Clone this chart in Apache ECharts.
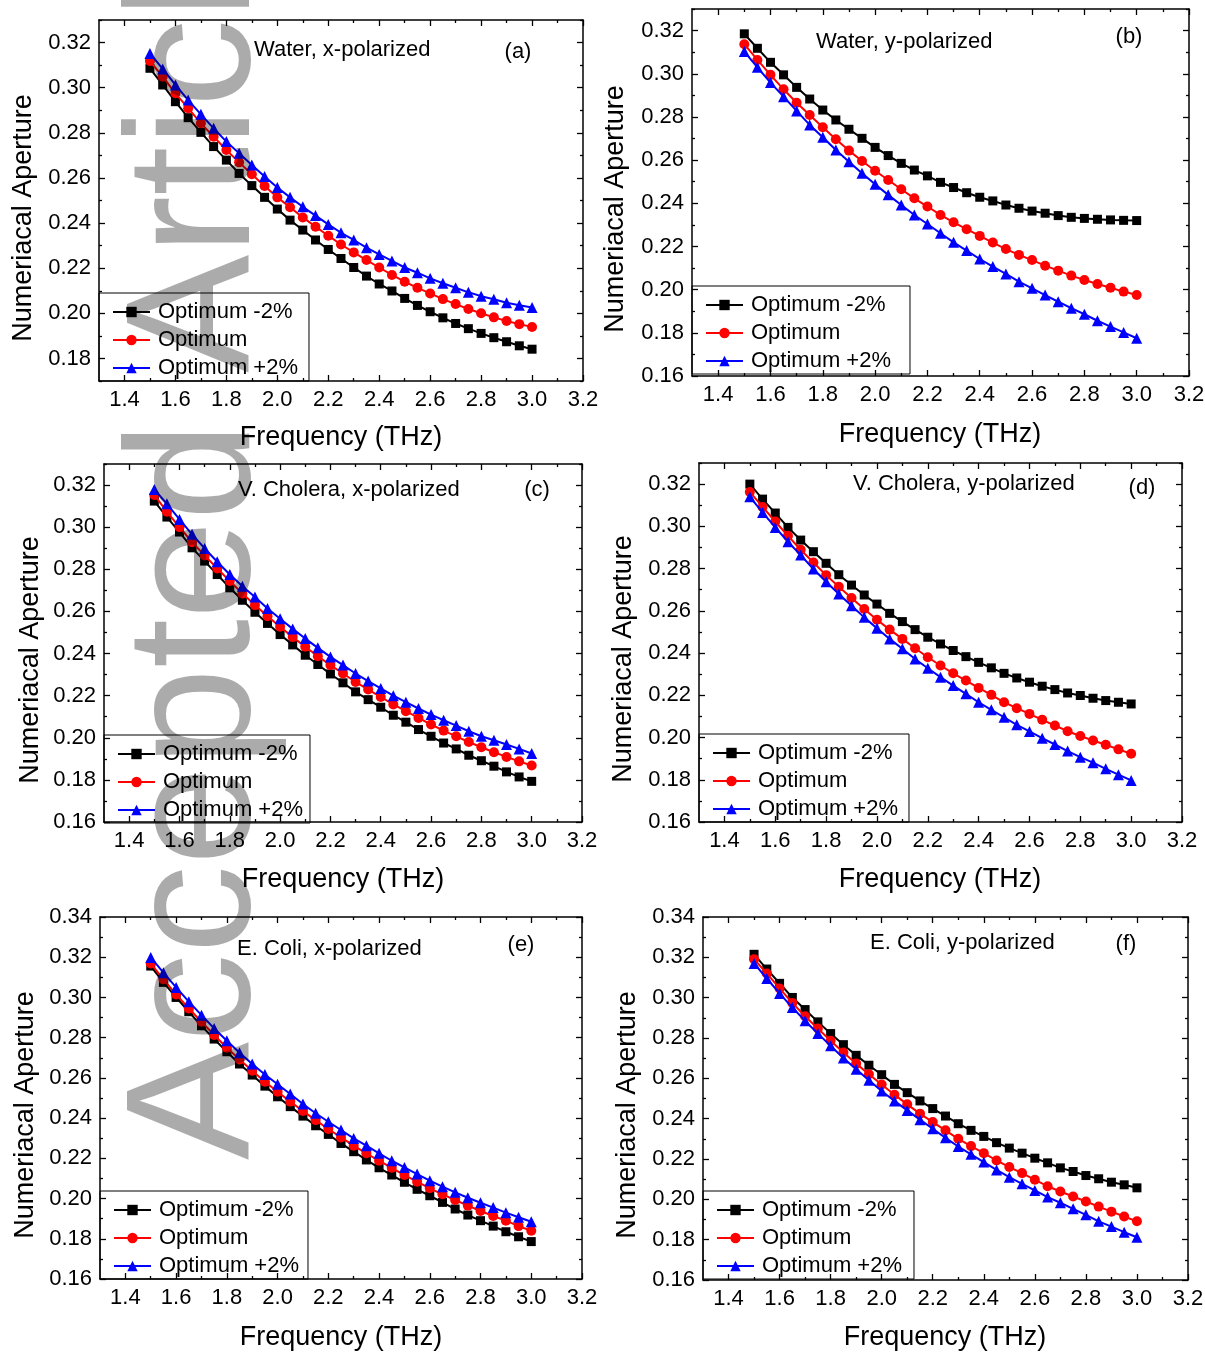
<!DOCTYPE html>
<html>
<head>
<meta charset="utf-8">
<title>Numerical aperture vs frequency</title>
<script src="https://cdn.jsdelivr.net/npm/echarts@6/dist/echarts.min.js"></script>
<style>
  html, body { margin: 0; padding: 0; background: #fff; }
  #chart { width: 1205px; height: 1353px; }
</style>
</head>
<body>
<div id="chart"></div>
<script>
// Frequency samples (THz)
const freq = [1.50, 1.55, 1.60, 1.65, 1.70, 1.75, 1.80, 1.85, 1.90, 1.95, 2.00, 2.05, 2.10, 2.15, 2.20, 2.25,
              2.30, 2.35, 2.40, 2.45, 2.50, 2.55, 2.60, 2.65, 2.70, 2.75, 2.80, 2.85, 2.90, 2.95, 3.00];

// (a) Water, x-polarized
const waterX_minus2 = [0.3086, 0.3012, 0.2938, 0.2867, 0.2802, 0.2739, 0.2679, 0.2620, 0.2566, 0.2514, 0.2462, 0.2413, 0.2369, 0.2325, 0.2283, 0.2243,
                       0.2203, 0.2165, 0.2130, 0.2099, 0.2066, 0.2035, 0.2007, 0.1980, 0.1955, 0.1932, 0.1911, 0.1892, 0.1874, 0.1856, 0.1841];
const waterX_opt    = [0.3118, 0.3049, 0.2975, 0.2909, 0.2842, 0.2783, 0.2724, 0.2669, 0.2616, 0.2564, 0.2514, 0.2470, 0.2425, 0.2384, 0.2344, 0.2305,
                       0.2270, 0.2236, 0.2203, 0.2170, 0.2140, 0.2113, 0.2088, 0.2063, 0.2041, 0.2019, 0.2000, 0.1982, 0.1966, 0.1952, 0.1939];
const waterX_plus2  = [0.3152, 0.3083, 0.3012, 0.2945, 0.2882, 0.2820, 0.2761, 0.2709, 0.2657, 0.2606, 0.2558, 0.2514, 0.2472, 0.2433, 0.2394, 0.2357,
                       0.2325, 0.2291, 0.2261, 0.2232, 0.2203, 0.2180, 0.2155, 0.2133, 0.2113, 0.2093, 0.2076, 0.2062, 0.2047, 0.2036, 0.2026];

// (b) Water, y-polarized
const waterY_minus2 = [0.3185, 0.3118, 0.3053, 0.2995, 0.2937, 0.2883, 0.2832, 0.2786, 0.2743, 0.2701, 0.2659, 0.2621, 0.2585, 0.2554, 0.2527, 0.2497,
                       0.2473, 0.2449, 0.2428, 0.2411, 0.2392, 0.2377, 0.2364, 0.2354, 0.2343, 0.2335, 0.2330, 0.2326, 0.2323, 0.2321, 0.2320];
const waterY_opt    = [0.3137, 0.3064, 0.2995, 0.2928, 0.2866, 0.2809, 0.2752, 0.2697, 0.2644, 0.2596, 0.2551, 0.2508, 0.2465, 0.2423, 0.2385, 0.2346,
                       0.2312, 0.2280, 0.2249, 0.2218, 0.2188, 0.2161, 0.2137, 0.2111, 0.2088, 0.2065, 0.2045, 0.2026, 0.2009, 0.1991, 0.1975];
const waterY_plus2  = [0.3103, 0.3030, 0.2959, 0.2894, 0.2828, 0.2763, 0.2706, 0.2647, 0.2593, 0.2539, 0.2488, 0.2439, 0.2392, 0.2346, 0.2304, 0.2261,
                       0.2219, 0.2181, 0.2142, 0.2107, 0.2073, 0.2037, 0.2006, 0.1975, 0.1944, 0.1914, 0.1886, 0.1856, 0.1829, 0.1802, 0.1775];

// (c) V. Cholera, x-polarized
const cholX_minus2 = [0.3124, 0.3048, 0.2977, 0.2902, 0.2839, 0.2775, 0.2712, 0.2653, 0.2596, 0.2543, 0.2490, 0.2441, 0.2392, 0.2348, 0.2303, 0.2261,
                      0.2218, 0.2181, 0.2145, 0.2107, 0.2074, 0.2039, 0.2007, 0.1975, 0.1947, 0.1917, 0.1891, 0.1865, 0.1838, 0.1814, 0.1793];
const cholX_opt    = [0.3153, 0.3073, 0.3000, 0.2929, 0.2866, 0.2804, 0.2744, 0.2685, 0.2630, 0.2577, 0.2527, 0.2478, 0.2432, 0.2387, 0.2345, 0.2305,
                      0.2265, 0.2229, 0.2194, 0.2158, 0.2126, 0.2094, 0.2063, 0.2034, 0.2007, 0.1980, 0.1955, 0.1931, 0.1909, 0.1888, 0.1868];
const cholX_plus2  = [0.3179, 0.3111, 0.3037, 0.2966, 0.2899, 0.2836, 0.2775, 0.2720, 0.2668, 0.2614, 0.2565, 0.2517, 0.2471, 0.2427, 0.2384, 0.2345,
                      0.2305, 0.2269, 0.2234, 0.2200, 0.2169, 0.2139, 0.2110, 0.2083, 0.2058, 0.2031, 0.2007, 0.1988, 0.1968, 0.1947, 0.1925];

// (d) V. Cholera, y-polarized
const cholY_minus2 = [0.3200, 0.3129, 0.3063, 0.2995, 0.2935, 0.2880, 0.2825, 0.2771, 0.2722, 0.2675, 0.2632, 0.2588, 0.2549, 0.2511, 0.2475, 0.2443,
                      0.2412, 0.2383, 0.2356, 0.2330, 0.2304, 0.2282, 0.2262, 0.2243, 0.2227, 0.2211, 0.2199, 0.2186, 0.2175, 0.2167, 0.2159];
const cholY_opt    = [0.3163, 0.3092, 0.3023, 0.2955, 0.2889, 0.2829, 0.2769, 0.2714, 0.2661, 0.2609, 0.2558, 0.2511, 0.2467, 0.2423, 0.2380, 0.2341,
                      0.2304, 0.2270, 0.2235, 0.2202, 0.2167, 0.2139, 0.2112, 0.2084, 0.2057, 0.2030, 0.2007, 0.1986, 0.1966, 0.1944, 0.1923];
const cholY_plus2  = [0.3140, 0.3066, 0.2995, 0.2927, 0.2864, 0.2798, 0.2738, 0.2680, 0.2624, 0.2569, 0.2517, 0.2467, 0.2420, 0.2372, 0.2328, 0.2286,
                      0.2246, 0.2207, 0.2167, 0.2131, 0.2096, 0.2060, 0.2029, 0.1997, 0.1967, 0.1936, 0.1907, 0.1881, 0.1852, 0.1824, 0.1797];

// (e) E. Coli, x-polarized
const coliX_minus2 = [0.3156, 0.3075, 0.3000, 0.2929, 0.2859, 0.2793, 0.2730, 0.2669, 0.2614, 0.2559, 0.2506, 0.2457, 0.2410, 0.2362, 0.2319, 0.2274,
                      0.2233, 0.2192, 0.2153, 0.2117, 0.2081, 0.2046, 0.2014, 0.1981, 0.1948, 0.1918, 0.1890, 0.1863, 0.1835, 0.1810, 0.1786];
const coliX_opt    = [0.3169, 0.3090, 0.3015, 0.2945, 0.2879, 0.2813, 0.2750, 0.2692, 0.2636, 0.2581, 0.2531, 0.2482, 0.2435, 0.2390, 0.2346, 0.2304,
                      0.2263, 0.2225, 0.2188, 0.2153, 0.2117, 0.2084, 0.2051, 0.2021, 0.1993, 0.1965, 0.1938, 0.1913, 0.1890, 0.1863, 0.1840];
const coliX_plus2  = [0.3199, 0.3123, 0.3050, 0.2979, 0.2912, 0.2846, 0.2785, 0.2725, 0.2669, 0.2617, 0.2568, 0.2520, 0.2470, 0.2424, 0.2382, 0.2341,
                      0.2299, 0.2263, 0.2225, 0.2188, 0.2155, 0.2122, 0.2089, 0.2059, 0.2031, 0.2004, 0.1979, 0.1955, 0.1930, 0.1907, 0.1885];

// (f) E. Coli, y-polarized
const coliY_minus2 = [0.3215, 0.3142, 0.3071, 0.3001, 0.2941, 0.2880, 0.2822, 0.2767, 0.2714, 0.2665, 0.2618, 0.2570, 0.2529, 0.2488, 0.2450, 0.2413,
                      0.2375, 0.2342, 0.2312, 0.2281, 0.2254, 0.2229, 0.2204, 0.2181, 0.2156, 0.2138, 0.2118, 0.2102, 0.2085, 0.2072, 0.2057];
const coliY_opt    = [0.3191, 0.3120, 0.3046, 0.2974, 0.2908, 0.2847, 0.2786, 0.2728, 0.2673, 0.2620, 0.2569, 0.2519, 0.2471, 0.2425, 0.2383, 0.2342,
                      0.2300, 0.2264, 0.2229, 0.2193, 0.2160, 0.2130, 0.2097, 0.2065, 0.2039, 0.2014, 0.1989, 0.1964, 0.1939, 0.1915, 0.1891];
const coliY_plus2  = [0.3170, 0.3095, 0.3021, 0.2951, 0.2885, 0.2822, 0.2761, 0.2701, 0.2645, 0.2590, 0.2537, 0.2488, 0.2441, 0.2395, 0.2350, 0.2305,
                      0.2262, 0.2223, 0.2185, 0.2146, 0.2110, 0.2077, 0.2044, 0.2011, 0.1983, 0.1953, 0.1923, 0.1891, 0.1865, 0.1837, 0.1812];

// Tick positions
const xMajorTicks = [1.4, 1.6, 1.8, 2.0, 2.2, 2.4, 2.6, 2.8, 3.0, 3.2];
const xMinorTicks = [1.5, 1.7, 1.9, 2.1, 2.3, 2.5, 2.7, 2.9, 3.1];
const yMajorTicksWaterX = [0.18, 0.20, 0.22, 0.24, 0.26, 0.28, 0.30, 0.32];
const yMajorTicksMid = [0.16, 0.18, 0.20, 0.22, 0.24, 0.26, 0.28, 0.30, 0.32];
const yMajorTicksColi = [0.16, 0.18, 0.20, 0.22, 0.24, 0.26, 0.28, 0.30, 0.32, 0.34];
const yMinorTicks = [0.17, 0.19, 0.21, 0.23, 0.25, 0.27, 0.29, 0.31, 0.33];

const seriesNames = ['Optimum -2%', 'Optimum', 'Optimum +2%'];
const panelNotes = ['Water, x-polarized', 'Water, y-polarized', 'V. Cholera, x-polarized',
                    'V. Cholera, y-polarized', 'E. Coli, x-polarized', 'E. Coli, y-polarized'];
const panelTags = ['(a)', '(b)', '(c)', '(d)', '(e)', '(f)'];
const xTitle = 'Frequency (THz)';
const yTitle = 'Numeriacal Aperture';

const FONT = "'Liberation Sans', Arial, Helvetica, sans-serif";

// Layout of the six panels (pixel boxes and text anchors)
const panels = [
  { box: [99, 20, 484, 361],  yRange: [0.17, 0.33], yTicks: yMajorTicksWaterX, data: [waterX_minus2, waterX_opt, waterX_plus2],
    legend: [99, 293, 11],  note: [254, 50],  tag: [518, 52],  xT: [341, 438],  yT: [24, 218] },
  { box: [692, 9, 497, 367],  yRange: [0.16, 0.33], yTicks: yMajorTicksMid, data: [waterY_minus2, waterY_opt, waterY_plus2],
    legend: [692, 286, 19], note: [816, 42],  tag: [1129, 37], xT: [940, 435],  yT: [616, 209] },
  { box: [104, 464, 478, 358], yRange: [0.16, 0.33], yTicks: yMajorTicksMid, data: [cholX_minus2, cholX_opt, cholX_plus2],
    legend: [104, 735, 7], note: [238, 490], tag: [537, 490], xT: [343, 880],  yT: [31, 660] },
  { box: [699, 463, 483, 359], yRange: [0.16, 0.33], yTicks: yMajorTicksMid, data: [cholY_minus2, cholY_opt, cholY_plus2],
    legend: [699, 734, 11], note: [853, 484], tag: [1142, 488], xT: [940, 880], yT: [624, 659] },
  { box: [100, 917, 482, 362], yRange: [0.16, 0.34], yTicks: yMajorTicksColi, data: [coliX_minus2, coliX_opt, coliX_plus2],
    legend: [100, 1191, 9], note: [237, 949], tag: [521, 945], xT: [341, 1338], yT: [26, 1115] },
  { box: [703, 917, 485, 363], yRange: [0.16, 0.34], yTicks: yMajorTicksColi, data: [coliY_minus2, coliY_opt, coliY_plus2],
    legend: [703, 1191, 12], note: [870, 943], tag: [1126, 944], xT: [945, 1338], yT: [628, 1115] }
];

const seriesStyles = [
  { color: '#000000', symbol: 'rect', size: 9 },
  { color: '#ff0000', symbol: 'circle', size: 10 },
  { color: '#0000ff', symbol: 'triangle', size: 11 }
];

function xAxisDef(gridIndex, position, ticks, len, withLabels, withLine) {
  return {
    type: 'value', gridIndex, position, min: 1.3, max: 3.2,
    axisLine: { show: withLine, onZero: false, lineStyle: { color: '#000', width: 1.5 } },
    axisTick: { show: true, inside: true, length: len, customValues: ticks, lineStyle: { color: '#000', width: 1.3 } },
    axisLabel: { show: withLabels, customValues: ticks, formatter: v => v.toFixed(1), margin: 8,
                 color: '#000', fontFamily: FONT, fontSize: 22 },
    splitLine: { show: false }, minorTick: { show: false }
  };
}

function yAxisDef(gridIndex, position, range, ticks, len, withLabels, withLine) {
  return {
    type: 'value', gridIndex, position, min: range[0], max: range[1],
    axisLine: { show: withLine, onZero: false, lineStyle: { color: '#000', width: 1.5 } },
    axisTick: { show: true, inside: true, length: len, customValues: ticks, lineStyle: { color: '#000', width: 1.3 } },
    axisLabel: { show: withLabels, customValues: ticks, formatter: v => v.toFixed(2), margin: 8,
                 color: '#000', fontFamily: FONT, fontSize: 22 },
    splitLine: { show: false }, minorTick: { show: false }
  };
}

const option = {
  animation: false,
  backgroundColor: '#ffffff',
  grid: [], xAxis: [], yAxis: [], series: [], legend: [], graphic: []
};

panels.forEach((p, i) => {
  option.grid.push({ left: p.box[0], top: p.box[1], width: p.box[2], height: p.box[3],
                     containLabel: false, outerBoundsMode: 'none', show: false });

  const xIdx = option.xAxis.length;
  option.xAxis.push(
    xAxisDef(i, 'bottom', xMajorTicks, 6, true, true),
    xAxisDef(i, 'top', xMajorTicks, 6, false, true),
    xAxisDef(i, 'bottom', xMinorTicks, 3, false, false),
    xAxisDef(i, 'top', xMinorTicks, 3, false, false)
  );
  const yIdx = option.yAxis.length;
  option.yAxis.push(
    yAxisDef(i, 'left', p.yRange, p.yTicks, 6, true, true),
    yAxisDef(i, 'right', p.yRange, p.yTicks, 6, false, true),
    yAxisDef(i, 'left', p.yRange, yMinorTicks, 3, false, false),
    yAxisDef(i, 'right', p.yRange, yMinorTicks, 3, false, false)
  );

  p.data.forEach((values, s) => {
    const st = seriesStyles[s];
    option.series.push({
      type: 'line', name: seriesNames[s], xAxisIndex: xIdx, yAxisIndex: yIdx,
      data: freq.map((f, k) => [f, values[k]]),
      symbol: st.symbol, symbolSize: st.size, showSymbol: true,
      color: st.color,
      itemStyle: { color: st.color },
      lineStyle: { color: st.color, width: 2 },
      z: 2 + s
    });
  });

  option.legend.push({
    left: p.legend[0], top: p.legend[1], orient: 'vertical',
    data: seriesNames, selectedMode: false,
    itemWidth: 37, itemHeight: 13, itemGap: 6,
    padding: [8, p.legend[2], 2, 13],
    borderColor: '#000', borderWidth: 1, backgroundColor: 'transparent',
    textStyle: { color: '#000', fontFamily: FONT, fontSize: 22, padding: [0, 0, 0, 3] }
  });

  option.graphic.push(
    { type: 'text', x: p.note[0], y: p.note[1], silent: true,
      style: { text: panelNotes[i], fill: '#000', fontFamily: FONT, fontSize: 22, align: 'left', verticalAlign: 'middle' } },
    { type: 'text', x: p.tag[0], y: p.tag[1], silent: true,
      style: { text: panelTags[i], fill: '#000', fontFamily: FONT, fontSize: 22, align: 'center', verticalAlign: 'middle' } },
    { type: 'text', x: p.xT[0], y: p.xT[1], silent: true,
      style: { text: xTitle, fill: '#000', fontFamily: FONT, fontSize: 27, align: 'center', verticalAlign: 'middle' } },
    { type: 'text', x: p.yT[0], y: p.yT[1], rotation: Math.PI / 2, silent: true,
      style: { text: yTitle, fill: '#000', fontFamily: FONT, fontSize: 27, align: 'center', verticalAlign: 'middle' } }
  );
});

// Translucent "Accepted Article" stamp running up the left side, drawn over the plots
option.graphic.push({
  type: 'text', x: 200, y: 1160, rotation: Math.PI / 2, z: 100, silent: true,
  style: { text: 'Accepted Article', fill: 'rgba(0,0,0,0.33)', fontFamily: FONT, fontSize: 177,
           align: 'left', verticalAlign: 'middle' }
});

const chart = echarts.init(document.getElementById('chart'), null, { renderer: 'canvas' });
chart.setOption(option);
</script>
</body>
</html>
